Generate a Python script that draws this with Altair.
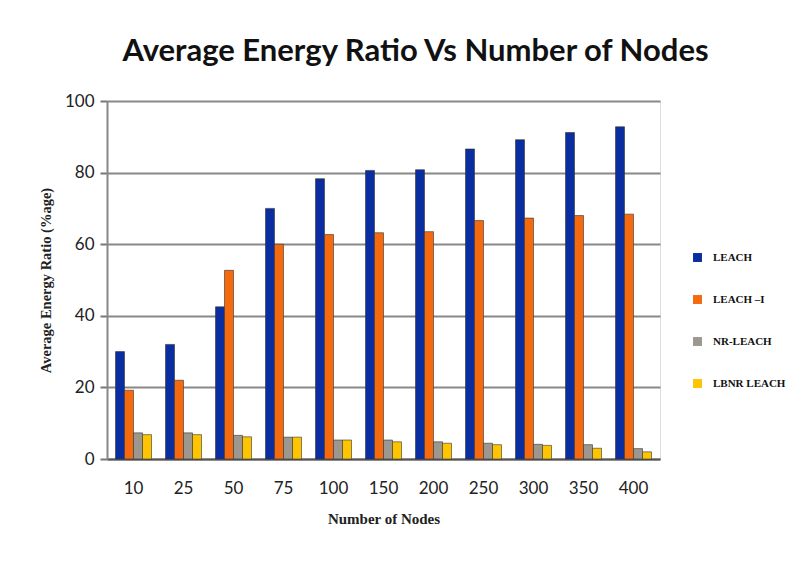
import altair as alt
import pandas as pd

nodes = ["10", "25", "50", "75", "100", "150", "200", "250", "300", "350", "400"]
series = ["LEACH", "LEACH –I", "NR-LEACH", "LBNR LEACH"]
leach = [30, 32, 42.5, 70, 78.3, 80.6, 80.8, 86.6, 89.2, 91.2, 92.8]
leach_i = [19.2, 22, 52.7, 60, 62.7, 63.2, 63.5, 66.6, 67.3, 68, 68.4]
nr_leach = [7.3, 7.3, 6.6, 6.1, 5.3, 5.3, 4.8, 4.4, 4.1, 4.0, 2.9]
lbnr_leach = [6.8, 6.8, 6.2, 6.1, 5.3, 4.8, 4.4, 4.0, 3.8, 3.0, 2.0]
colors = ["#0a2ea0", "#f56a0f", "#9c9890", "#ffc400"]

rows = []
for name, vals in zip(series, [leach, leach_i, nr_leach, lbnr_leach]):
    for n, v in zip(nodes, vals):
        rows.append({"nodes": n, "series": name, "value": v})
df = pd.DataFrame(rows)

bars = alt.Chart(df).mark_bar(stroke="#333333", strokeWidth=0.6).encode(
    x=alt.X("nodes:N", sort=nodes,
            scale=alt.Scale(paddingInner=0.28, paddingOuter=0.17),
            axis=alt.Axis(title="Number of Nodes", labelAngle=0,
                          labelFont="Lato", labelFontSize=17, labelColor="#222",
                          labelPadding=21, ticks=False,
                          domainColor="#555", domainWidth=2,
                          titleFont="Liberation Serif", titleFontSize=15,
                          titleFontWeight="bold", titleColor="#222",
                          titlePadding=15)),
    xOffset=alt.XOffset("series:N", sort=series),
    y=alt.Y("value:Q", scale=alt.Scale(domain=[0, 100]),
            axis=alt.Axis(title="Average Energy Ratio (%age)", values=[0, 20, 40, 60, 80, 100],
                          labelFont="Lato", labelFontSize=17, labelColor="#222",
                          labelPadding=6, tickSize=7, tickColor="#777", tickWidth=2,
                          domainColor="#888", domainWidth=2,
                          grid=True, gridColor="#888", gridWidth=2,
                          titleFont="Liberation Serif", titleFontSize=14.5,
                          titleFontWeight="bold", titleColor="#222",
                          titlePadding=11)),
    color=alt.Color("series:N", sort=series,
                    scale=alt.Scale(domain=series, range=colors),
                    legend=alt.Legend(title=None, orient="none", legendX=585, legendY=151,
                                      symbolType="square", symbolSize=80,
                                      symbolStrokeWidth=0,
                                      labelFont="Liberation Serif", labelFontSize=11,
                                      labelFontWeight="bold", labelColor="#111",
                                      rowPadding=30, labelOffset=10)),
)

chart = bars.properties(
    width=553, height=358,
    autosize=alt.AutoSizeParams(type="none"),
    padding={"left": 99, "top": 93, "right": 136, "bottom": 96},
    title=alt.TitleParams("Average Energy Ratio Vs Number of Nodes",
                          font="Lato", fontSize=31, fontWeight="bold",
                          color="#111", anchor="middle", dx=32, offset=24),
).configure_view(stroke=None).configure(background="white")

chart.save("out.html", embed_options={"renderer": "svg", "actions": False})
